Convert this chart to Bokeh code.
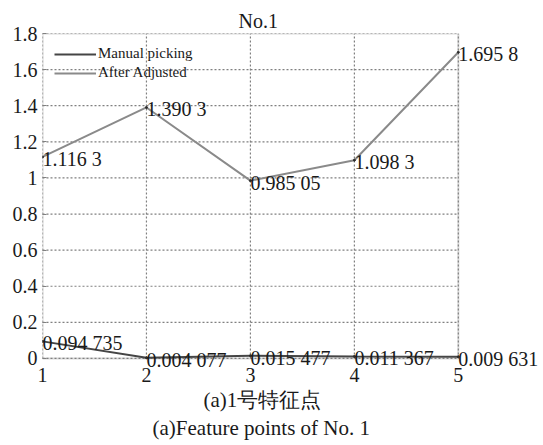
from bokeh.plotting import figure
from bokeh.models import (ColumnDataSource, Label, Title, FixedTicker,
                          Legend, LegendItem, BoxAnnotation)
from bokeh.embed import file_html
from bokeh.resources import INLINE

# Feature point No. 1: error before and after adjustment
points = [1, 2, 3, 4, 5]
manual_picking = [0.094735, 0.004077, 0.015477, 0.011367, 0.009631]
after_adjusted = [1.1163, 1.3903, 0.98505, 1.0983, 1.6958]
y_ticks = [0, 0.2, 0.4, 0.6, 0.8, 1.0, 1.2, 1.4, 1.6, 1.8]
y_tick_labels = ["0", "0.2", "0.4", "0.6", "0.8", "1", "1.2", "1.4", "1.6", "1.8"]

SERIF = "Liberation Serif"
GRAY = "#808080"
INK = "#1a1a1a"

x_lo, x_hi = points[0], points[-1]
y_lo, y_hi = y_ticks[0], y_ticks[-1]


def fmt(v):
    # digits after the decimal point grouped in threes: 0.094735 -> "0.094 735"
    s = str(v)
    whole, frac = s.split(".")
    groups = [frac[i:i + 3] for i in range(0, len(frac), 3)]
    return whole + "." + " ".join(groups)


# the frame reaches a little past the axes box on the right and bottom so
# that the value labels at those edges are not cut off
p = figure(width=543, height=445, x_range=(x_lo, 5.8), y_range=(-0.05, y_hi),
           output_backend="svg", toolbar_location=None,
           min_border_left=42, min_border_right=2,
           min_border_top=33, min_border_bottom=78,
           background_fill_color="white", border_fill_color="white")
p.outline_line_color = None
p.xgrid.visible = False
p.ygrid.visible = False

p.title.text = "No.1"
p.title.align = "left"
p.title.offset = 196
p.title.text_font = SERIF
p.title.text_font_size = "20px"
p.title.text_font_style = "normal"
p.title.text_color = INK
p.title.standoff = 4

for ax in (p.xaxis, p.yaxis):
    ax.axis_line_color = None
    ax.minor_tick_line_color = None
    ax.major_label_text_font = SERIF
    ax.major_label_text_font_size = "20px"
    ax.major_label_text_color = INK

p.xaxis.ticker = FixedTicker(ticks=points)
p.xaxis.major_tick_line_color = None
p.xaxis.major_tick_in = 0
p.xaxis.major_tick_out = 0
p.xaxis.major_label_standoff = 0

p.yaxis.ticker = FixedTicker(ticks=y_ticks)
p.yaxis.bounds = (y_lo, y_hi)
p.yaxis.major_label_overrides = {t: l for t, l in zip(y_ticks, y_tick_labels)}
p.yaxis.major_tick_line_color = GRAY
p.yaxis.major_tick_in = 4
p.yaxis.major_tick_out = 0
p.yaxis.major_label_standoff = 5

# dotted grid inside the axes box, one line per tick
p.segment(x0=points, x1=points, y0=[y_lo] * len(points), y1=[y_hi] * len(points),
          line_color=GRAY, line_dash="2 2", line_width=1.2)
p.segment(x0=[x_lo] * len(y_ticks), x1=[x_hi] * len(y_ticks), y0=y_ticks, y1=y_ticks,
          line_color=GRAY, line_dash="2 2", line_width=1.2)

# axes box
p.add_layout(BoxAnnotation(left=x_lo, right=x_hi, bottom=y_lo, top=y_hi,
                           fill_alpha=0, line_color=GRAY, line_width=2,
                           level="underlay"))

src = ColumnDataSource(dict(x=points, manual=manual_picking, adjusted=after_adjusted))

l1 = p.line("x", "manual", source=src, line_color="#454545", line_width=2)
p.scatter("x", "manual", source=src, size=2, color="#2a2a2a")
l2 = p.line("x", "adjusted", source=src, line_color="#8a8a8a", line_width=2)
p.scatter("x", "adjusted", source=src, size=2, color="#2a2a2a")

# value labels next to each point
for series in (manual_picking, after_adjusted):
    for xv, yv in zip(points, series):
        p.add_layout(Label(x=xv, y=yv, text=fmt(yv),
                           text_font=SERIF, text_font_size="20px",
                           text_color=INK, text_align="left",
                           text_baseline="middle", y_offset=-2))

legend = Legend(items=[LegendItem(label="Manual picking", renderers=[l1]),
                       LegendItem(label="After Adjusted", renderers=[l2])],
                location="top_left")
legend.background_fill_alpha = 0
legend.border_line_color = None
legend.label_text_font = SERIF
legend.label_text_font_size = "15px"
legend.label_text_color = INK
legend.glyph_width = 42
legend.glyph_height = 16
legend.label_standoff = 2
legend.spacing = 2
legend.padding = 5
legend.margin = 12
p.add_layout(legend)

for txt, off in (("(a)1号特征点", 161), ("(a)Feature points of No. 1", 110)):
    t = Title(text=txt, align="left", offset=off, text_font=SERIF,
              text_font_size="21px", text_font_style="normal",
              text_color=INK, standoff=2)
    p.add_layout(t, "below")

open("out.html", "w").write(file_html(p, INLINE))
